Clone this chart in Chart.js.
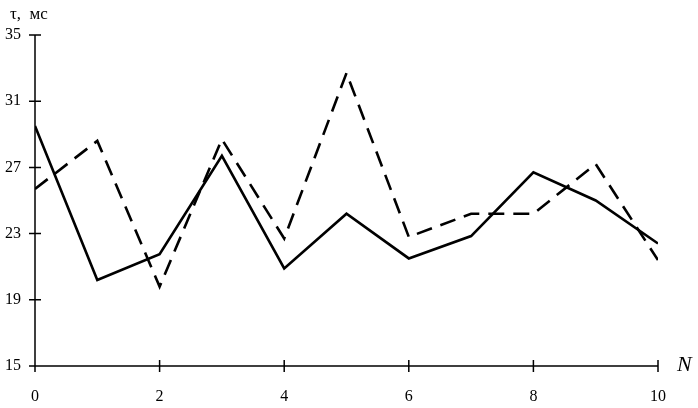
<!DOCTYPE html>
<html><head><meta charset="utf-8">
<script src="https://cdn.jsdelivr.net/npm/chart.js@4"></script>
<style>html,body{margin:0;padding:0;background:#fff}#w{width:698px;height:408px}</style>
</head><body><div id="w"><canvas id="c"></canvas></div>
<script>
const nValues = [0,1,2,3,4,5,6,7,8,9,10];
const solidSeries = [29.5,20.2,21.75,27.7,20.9,24.2,21.5,22.85,26.7,25.0,22.4];
const dashedSeries = [25.7,28.6,19.8,28.7,22.7,32.7,22.8,24.2,24.2,27.2,21.4];
const xTicks = [0,2,4,6,8,10];
const yTicks = [15,19,23,27,31,35];
const yTitle = 'τ,  мс';
const xTitle = 'N';

const FONT = '"Liberation Serif", "DejaVu Serif", serif';
const crossTicks = {
  id:'crossTicks',
  afterDraw(chart){
    const {ctx, chartArea:a, scales:{x,y}} = chart;
    ctx.save();
    ctx.strokeStyle='#000'; ctx.lineWidth=1.5;
    ctx.beginPath();
    ctx.moveTo(a.left, a.top); ctx.lineTo(a.left, a.bottom); ctx.lineTo(a.right, a.bottom);
    xTicks.forEach(v=>{const px=x.getPixelForValue(v); ctx.moveTo(px,a.bottom-6); ctx.lineTo(px,a.bottom+6);});
    yTicks.forEach(v=>{const py=y.getPixelForValue(v); ctx.moveTo(a.left-6,py); ctx.lineTo(a.left+6,py);});
    ctx.stroke();
    ctx.fillStyle='#000';
    ctx.font='17px '+FONT; ctx.textBaseline='middle'; ctx.textAlign='left';
    ctx.fillText(yTitle, a.left-25, a.top-20);
    ctx.font='italic 22px '+FONT;
    ctx.fillText(xTitle, a.right+19, a.bottom-1);
    ctx.restore();
  }
};
new Chart(document.getElementById('c'), {
  type:'line',
  data:{datasets:[
    {data:nValues.map((n,i)=>({x:n,y:solidSeries[i]})), borderColor:'#000', borderWidth:2.6, pointRadius:0, fill:false, tension:0},
    {data:nValues.map((n,i)=>({x:n,y:dashedSeries[i]})), borderColor:'#000', borderWidth:2.6, borderDash:[16,9], pointRadius:0, fill:false, tension:0}
  ]},
  options:{
    responsive:true, maintainAspectRatio:false, animation:false,
    layout:{padding:{top:35,right:40,left:0,bottom:0}},
    plugins:{legend:{display:false}, tooltip:{enabled:false}},
    scales:{
      x:{type:'linear', min:0, max:10,
        afterBuildTicks(s){s.ticks=xTicks.map(v=>({value:v}));},
        afterFit(s){s.height=42;},
        grid:{display:false, drawTicks:false}, border:{display:false},
        ticks:{color:'#000', padding:21, font:{family:FONT,size:16}}},
      y:{type:'linear', min:15, max:35,
        afterBuildTicks(s){s.ticks=yTicks.map(v=>({value:v}));},
        afterFit(s){s.width=35;},
        grid:{display:false, drawTicks:false}, border:{display:false},
        ticks:{color:'#000', padding:14, font:{family:FONT,size:16}}}
    }
  },
  plugins:[crossTicks]
});
</script></body></html>
